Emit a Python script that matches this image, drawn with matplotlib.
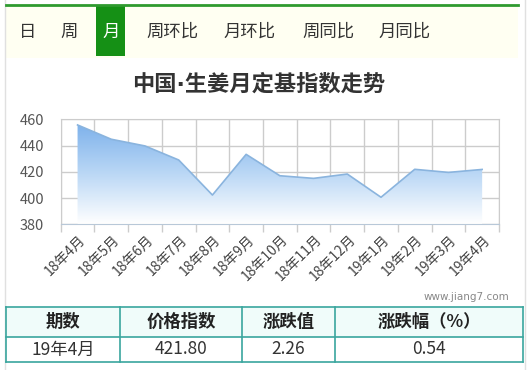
import numpy as np
import matplotlib
matplotlib.use("Agg")
import matplotlib.pyplot as plt
from matplotlib.patches import Rectangle, Polygon

plt.rcParams['font.family'] = ['Noto Sans CJK SC', 'DejaVu Sans']

# data
months = ["18年4月", "18年5月", "18年6月", "18年7月", "18年8月", "18年9月", "18年10月",
          "18年11月", "18年12月", "19年1月", "19年2月", "19年3月", "19年4月"]
index_vals = [455.7, 444.8, 439.7, 429.0, 402.3, 433.3, 417.0, 415.0, 418.3, 400.6, 421.9, 419.54, 421.80]
tabs = ["日", "周", "月", "周环比", "月环比", "周同比", "月同比"]
tab_x = [28, 69, 111, 172, 250, 328, 405]
selected_tab = "月"
title = "中国·生姜月定基指数走势"
table_head = ["期数", "价格指数", "涨跌值", "涨跌幅（%）"]
table_row = ["19年4月", "421.80", "2.26", "0.54"]
col_edges = [6, 120, 242, 335, 523]

W, H = 530, 370
fig = plt.figure(figsize=(W / 100, H / 100), dpi=100)

# overlay in pixel coords
ov = fig.add_axes([0, 0, 1, 1])
ov.set_xlim(0, W)
ov.set_ylim(H, 0)
ov.axis("off")

ov.plot([5, 5], [0, H], color="#e0e0e0", lw=1)
ov.plot([525, 525], [0, H], color="#e0e0e0", lw=1)

# tab bar
ov.add_patch(Rectangle((6, 6), 512, 52, facecolor="#fffff2", edgecolor="none"))
ov.plot([6, 518], [5, 5], color="#2f9a2f", lw=2)
for t, x in zip(tabs, tab_x):
    if t == selected_tab:
        ov.add_patch(Rectangle((96, 6), 29, 50, facecolor="#159015", edgecolor="none"))
        ov.text(x, 32, t, color="white", fontsize=12.5, ha="center", va="center")
    else:
        ov.text(x, 32, t, color="#333333", fontsize=12.5, ha="center", va="center")

ov.text(259, 84, title, fontsize=16, fontweight="bold", color="#333333", ha="center", va="center",
        family=["DejaVu Sans", "Noto Sans CJK SC"])
ov.text(466, 297, "www.jiang7.com", fontsize=7.5, color="#888888", ha="center", va="center",
        family="DejaVu Sans")

# table
ov.add_patch(Rectangle((6, 307), 517, 29.5, facecolor="#f0fcfa", edgecolor="none"))
for y in [307, 336.5, 362]:
    ov.plot([6, 523], [y, y], color="#3aa69e", lw=1.2)
for x in col_edges:
    ov.plot([x, x], [307, 362], color="#3aa69e", lw=1.2)
for i in range(4):
    cx = (col_edges[i] + col_edges[i + 1]) / 2
    ov.text(cx, 322, table_head[i], fontsize=12.5, fontweight="bold", color="#222222", ha="center", va="center")
    ov.text(cx, 349.5, table_row[i], fontsize=12.5, color="#333333", ha="center", va="center")

# chart axes
left, right, top, bottom = 60.7, 499, 119.3, 224.3
ax = fig.add_axes([left / W, 1 - bottom / H, (right - left) / W, (bottom - top) / H])
n = len(months)
xs = np.arange(n)
ax.set_xlim(-0.5, n - 0.5)
ax.set_ylim(380, 460)

# gradient fill clipped under the line
grad = np.linspace(0, 1, 256).reshape(-1, 1)
cmap = matplotlib.colors.LinearSegmentedColormap.from_list("g", ["#ffffff", "#b8d6f5", "#78aeea"])
img = ax.imshow(grad, extent=[-0.5, n - 0.5, 380, 460], origin="lower", cmap=cmap,
                aspect="auto", zorder=2)
verts = [(xs[0], 380)] + list(zip(xs, index_vals)) + [(xs[-1], 380)]
poly = Polygon(verts, closed=True, facecolor="none", edgecolor="none")
ax.add_patch(poly)
img.set_clip_path(poly)
ax.plot(xs, index_vals, color="#8ab4de", lw=1.2, zorder=3)

ax.set_yticks([380, 400, 420, 440, 460])
ax.set_xticks(np.arange(-0.5, n, 1), minor=False)
ax.set_xticklabels([])
ax.grid(True, color="#cccccc", lw=1, zorder=1)
ax.tick_params(axis="x", length=6, color="#cccccc", width=1)
ax.tick_params(axis="y", length=0, labelsize=10.5, labelcolor="#555555", pad=12)
for s in ["top", "left", "right"]:
    ax.spines[s].set_color("#cccccc")
ax.spines["bottom"].set_color("#b8c8d8")
ax.set_axisbelow(True)

for i, m in enumerate(months):
    ax.annotate(m, xy=(i, 380), xytext=(1, -8), textcoords="offset pixels",
                rotation=45, rotation_mode="anchor", ha="right", va="top",
                fontsize=10, color="#444444")

fig.savefig("out.png", dpi=100, facecolor="white")
